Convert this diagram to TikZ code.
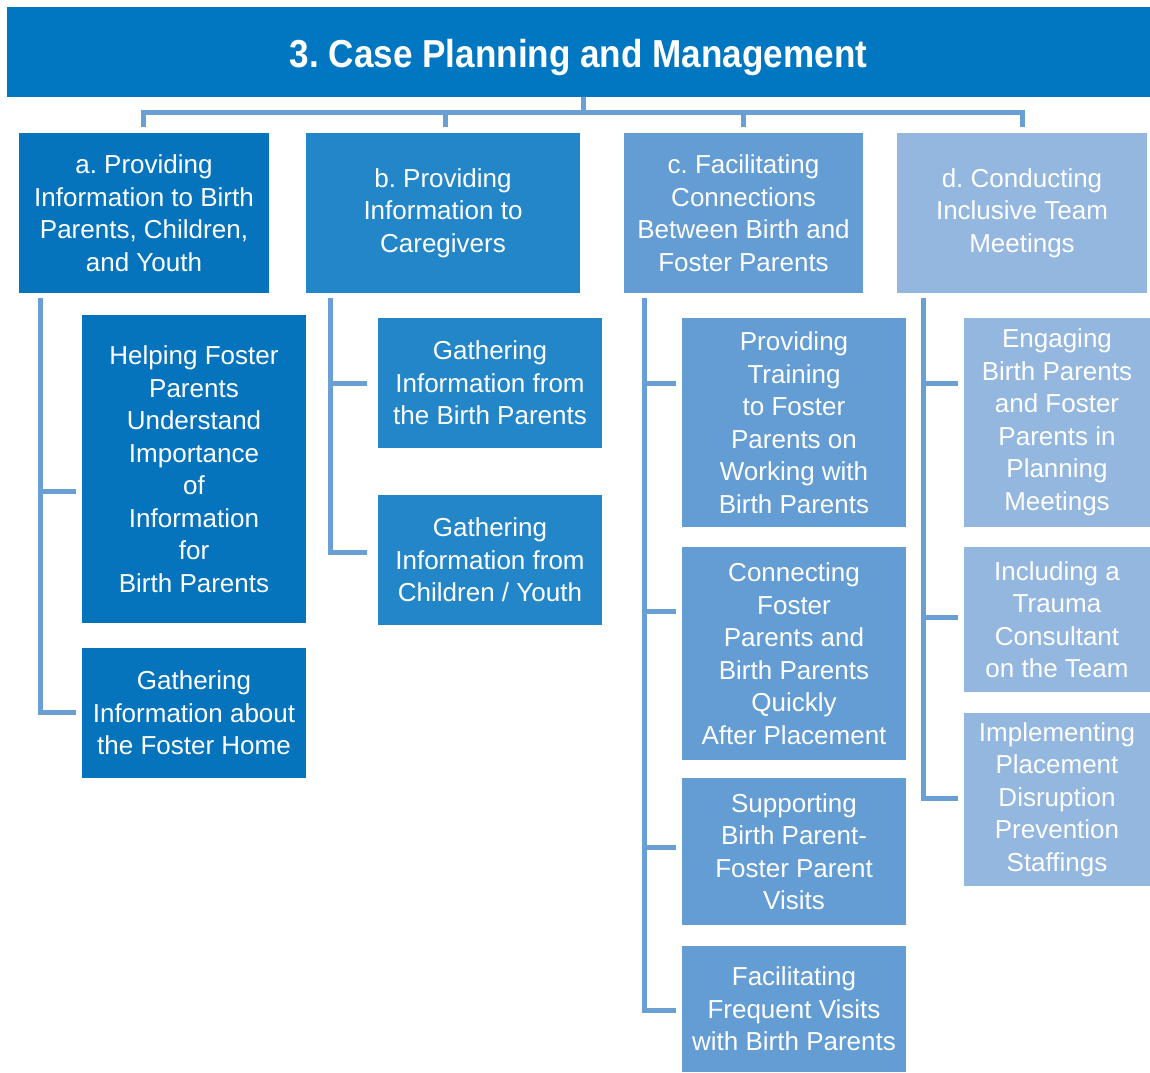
\documentclass[tikz,border=0pt]{standalone}
\usepackage{fontspec}
\setmainfont{Liberation Sans}
\newfontfamily\titlefont[FakeStretch=0.9]{Liberation Sans Bold}
\frenchspacing
\definecolor{hdr}{HTML}{0077C0}
\definecolor{colA}{HTML}{0574BD}
\definecolor{colB}{HTML}{2386C8}
\definecolor{colC}{HTML}{649DD4}
\definecolor{colD}{HTML}{94B7E0}
\definecolor{lnk}{HTML}{6A9FD3}
\tikzset{
  boxbase/.style={rectangle, inner sep=0pt, draw=none, text=white, align=center,
    font=\frenchspacing\fontsize{26}{32.5}\selectfont},
  conn/.style={draw=lnk, line width=5pt, line join=miter, line cap=butt},
}
\newcommand{\boxat}[7]{% name, color, x1, y1, x2, y2, text
  \node[boxbase, fill=#2, minimum width={(#5-#3)*1pt}, minimum height={(#6-#4)*1pt}]
    (#1) at ({(#3+#5)/2},{(#4+#6)/2}) {#7};}
\begin{document}
\begin{tikzpicture}[x=1pt,y=-1pt]
\useasboundingbox (0,0) rectangle (1150,1072);
\fill[white] (0,0) rectangle (1150,1072);
% header
\node[rectangle, inner sep=0pt, fill=hdr, minimum width=1143pt, minimum height=90pt] (title) at (578.5,52) {};
\node[inner sep=0pt, text=white, font=\titlefont\fontsize{39}{44}\selectfont] (titletext) at (578.5,57) {3. Case Planning and Management};
% level 1
\boxat{a}{colA}{19}{133}{269}{293}{a. Providing\\Information to Birth\\Parents, Children,\\and Youth}
\boxat{b}{colB}{306}{133}{580}{293}{b. Providing\\Information to\\Caregivers}
\boxat{c}{colC}{624}{133}{863}{293}{c. Facilitating\\Connections\\Between Birth and\\Foster Parents}
\boxat{d}{colD}{897}{133}{1147}{293}{d. Conducting\\Inclusive Team\\Meetings}
% column a
\boxat{a1}{colA}{82}{315}{306}{623}{Helping Foster\\Parents\\Understand\\Importance\\of\\Information\\for\\Birth Parents}
\boxat{a2}{colA}{82}{648}{306}{778}{Gathering\\Information about\\the Foster Home}
% column b
\boxat{b1}{colB}{378}{318}{602}{448}{Gathering\\Information from\\the Birth Parents}
\boxat{b2}{colB}{378}{495}{602}{625}{Gathering\\Information from\\Children / Youth}
% column c
\boxat{c1}{colC}{682}{318}{906}{527}{Providing\\Training\\to Foster\\Parents on\\Working with\\Birth Parents}
\boxat{c2}{colC}{682}{547}{906}{760}{Connecting\\Foster\\Parents and\\Birth Parents\\Quickly\\After Placement}
\boxat{c3}{colC}{682}{778}{906}{925}{Supporting\\Birth Parent-\\Foster Parent\\Visits}
\boxat{c4}{colC}{682}{946}{906}{1072}{Facilitating\\Frequent Visits\\with Birth Parents}
% column d
\boxat{d1}{colD}{964}{318}{1150}{527}{Engaging\\Birth Parents\\and Foster\\Parents in\\Planning\\Meetings}
\boxat{d2}{colD}{964}{547}{1150}{692}{Including a\\Trauma\\Consultant\\on the Team}
\boxat{d3}{colD}{964}{713}{1150}{886}{Implementing\\Placement\\Disruption\\Prevention\\Staffings}
% top connectors
\coordinate (bus) at (583,112);
\draw[conn] (title.south -| bus) -- (bus);
\draw[conn] ([xshift=-1pt,yshift=6pt]a.north) |- (bus) -| ([yshift=6pt]d.north);
\draw[conn] ([xshift=2pt,yshift=6pt]b.north) -- ([xshift=2pt]b.north |- bus);
\draw[conn] ([xshift=-0.5pt,yshift=6pt]c.north) -- ([xshift=-0.5pt]c.north |- bus);
% column a connectors
\draw[conn] ([xshift=22pt,yshift=-5pt]a.south west) |- ([xshift=-6pt,yshift=1pt]a2.west);
\draw[conn] ([xshift=22pt]a.south west |- a1.west) ++(0,22) -- ([xshift=-6pt,yshift=-22pt]a1.west);
% column b connectors
\draw[conn] ([xshift=25pt,yshift=-5pt]b.south west) |- ([xshift=-11pt,yshift=8pt]b2.west);
\draw[conn] ([xshift=25pt]b.south west |- b1.west) -- ([xshift=-11pt]b1.west);
% column c connectors
\draw[conn] ([xshift=21pt,yshift=-5pt]c.south west) |- ([xshift=-6pt,yshift=-1pt]c4.west);
\draw[conn] ([xshift=21pt]c.south west |- c1.west) ++(0,-39.5) -- ([xshift=-6pt,yshift=39.5pt]c1.west);
\draw[conn] ([xshift=21pt]c.south west |- c2.west) ++(0,-42.5) -- ([xshift=-6pt,yshift=42.5pt]c2.west);
\draw[conn] ([xshift=21pt]c.south west |- c3.west) ++(0,-4.5) -- ([xshift=-6pt,yshift=4.5pt]c3.west);
% column d connectors
\draw[conn] ([xshift=27pt,yshift=-5pt]d.south west) |- ([xshift=-6pt,yshift=1.5pt]d3.west);
\draw[conn] ([xshift=27pt]d.south west |- d1.west) ++(0,-39.5) -- ([xshift=-6pt,yshift=39.5pt]d1.west);
\draw[conn] ([xshift=27pt]d.south west |- d2.west) ++(0,-2.5) -- ([xshift=-6pt,yshift=2.5pt]d2.west);
\end{tikzpicture}
\end{document}
